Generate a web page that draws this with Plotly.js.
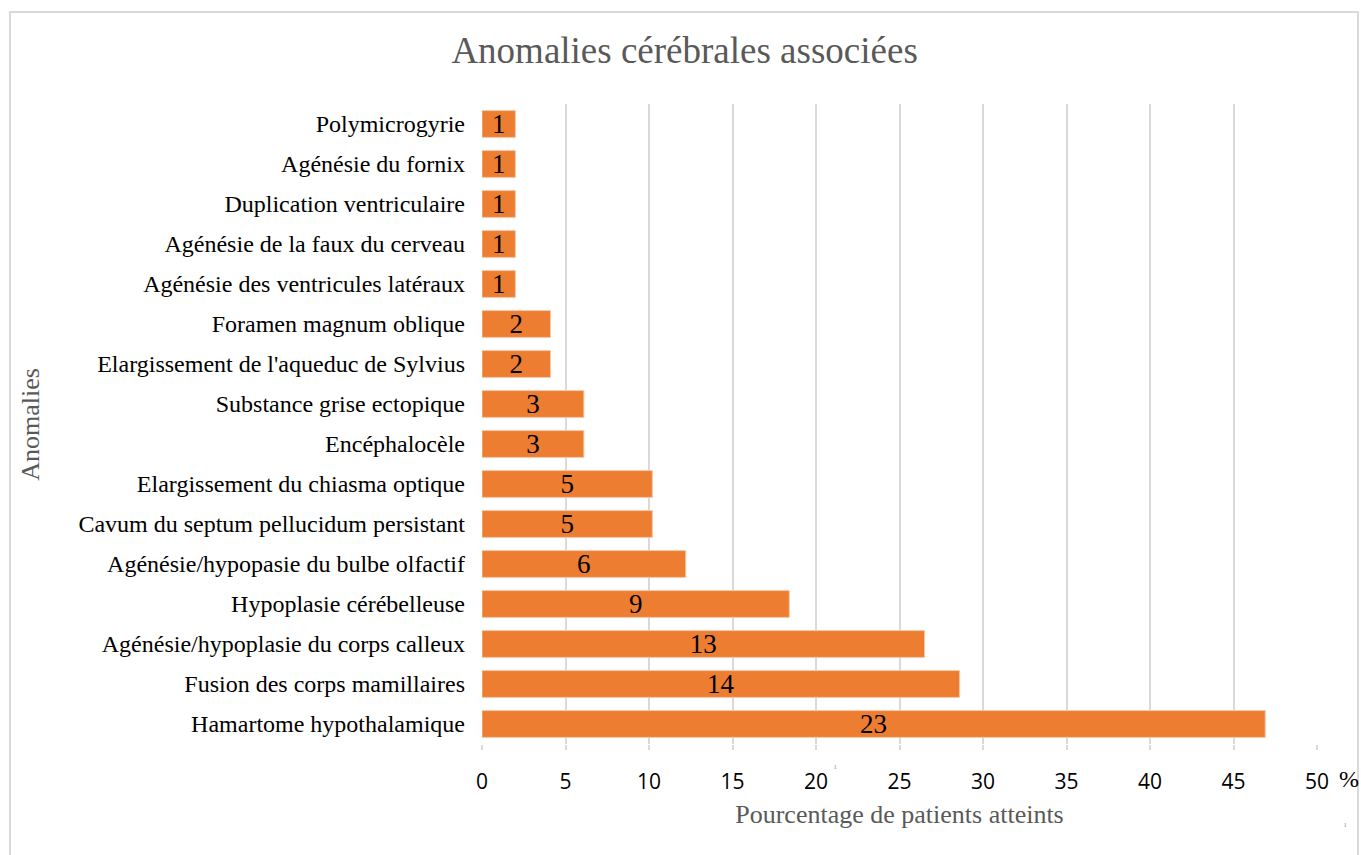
<!DOCTYPE html>
<html>
<head>
<meta charset="utf-8">
<script src="https://cdn.plot.ly/plotly-3.0.1.min.js"></script>
<style>
html,body{margin:0;padding:0;background:#fff;}
#chart{width:1361px;height:855px;}
</style>
</head>
<body>
<div id="chart"></div>
<script>
// Categories listed bottom to top
const categories = [
  "Hamartome hypothalamique",
  "Fusion des corps mamillaires",
  "Agénésie/hypoplasie du corps calleux",
  "Hypoplasie cérébelleuse",
  "Agénésie/hypopasie du bulbe olfactif",
  "Cavum du septum pellucidum persistant",
  "Elargissement du chiasma optique",
  "Encéphalocèle",
  "Substance grise ectopique",
  "Elargissement de l'aqueduc de Sylvius",
  "Foramen magnum oblique",
  "Agénésie des ventricules latéraux",
  "Agénésie de la faux du cerveau",
  "Duplication ventriculaire",
  "Agénésie du fornix",
  "Polymicrogyrie"
];
// Percentage of patients affected (bar length)
const percentages = [46.9, 28.6, 26.5, 18.4, 12.2, 10.2, 10.2, 6.1, 6.1, 4.1, 4.1, 2.0, 2.0, 2.0, 2.0, 2.0];
// Number of patients (bar labels)
const counts = [23, 14, 13, 9, 6, 5, 5, 3, 3, 2, 2, 1, 1, 1, 1, 1];
// X tick values / labels
const xTickVals = [0, 5, 10, 15, 20, 25, 30, 35, 40, 45, 50];
const xTickText = ["0", "5", "10", "15", "20", "25", "30", "35", "40", "45", "50"];

const serif = "Liberation Serif, Times New Roman, serif";

const trace = {
  type: "bar",
  orientation: "h",
  y: categories,
  x: percentages,
  text: counts.map(String),
  textposition: "inside",
  insidetextanchor: "middle",
  constraintext: "none",
  textangle: 0,
  textfont: {family: serif, size: 27, color: "#000000"},
  marker: {color: "#ed7d31", line: {color: "#f6c7a6", width: 1}},
  hoverinfo: "x+y",
  cliponaxis: false
};

const layout = {
  width: 1361,
  height: 855,
  margin: {l: 482, r: 44, t: 104, b: 111},
  paper_bgcolor: "#ffffff",
  plot_bgcolor: "#ffffff",
  showlegend: false,
  bargap: 0.33,
  title: {
    text: "Anomalies cérébrales associées",
    font: {family: serif, size: 37, color: "#595959"},
    x: 0.503, xref: "container", xanchor: "center",
    y: 0.942, yref: "container", yanchor: "middle"
  },
  xaxis: {
    range: [0, 50],
    tickmode: "array",
    tickvals: xTickVals,
    ticktext: xTickText,
    showgrid: true,
    gridcolor: "#d9d9d9",
    gridwidth: 2,
    zeroline: false,
    showline: false,
    ticks: "outside",
    ticklen: 5,
    tickwidth: 2,
    tickcolor: "#d9d9d9",
    tickfont: {family: "Open Sans, Noto Sans, sans-serif", size: 21, color: "#000000"},
    ticklabelstandoff: 14,
    title: {text: "Pourcentage de patients atteints", font: {family: serif, size: 26, color: "#595959"}, standoff: 10},
    fixedrange: true
  },
  yaxis: {
    type: "category",
    categoryorder: "array",
    categoryarray: categories,
    showgrid: false,
    zeroline: false,
    showline: false,
    ticks: "",
    tickfont: {family: serif, size: 24, color: "#000000"},
    ticklabelstandoff: 16,
    title: {text: ""},
    fixedrange: true
  },
  annotations: [
    {text: "Anomalies", textangle: -90, xref: "paper", yref: "paper",
     x: -0.5415, y: 0.5, xanchor: "center", yanchor: "middle", showarrow: false,
     font: {family: serif, size: 26, color: "#595959"}},
    {text: "%", xref: "paper", yref: "paper", x: 1.0245, y: -0.0545,
     xanchor: "left", yanchor: "middle", showarrow: false,
     font: {family: serif, size: 24, color: "#000000"}},
    {text: "ı", xref: "paper", yref: "paper", x: 0.4228, y: -0.034,
     xanchor: "center", yanchor: "middle", showarrow: false,
     font: {family: serif, size: 9, color: "#7fb3b3"}},
    {text: "ı", xref: "paper", yref: "paper", x: 1.0347, y: -0.125,
     xanchor: "center", yanchor: "middle", showarrow: false,
     font: {family: serif, size: 9, color: "#7fb3b3"}}
  ],
  shapes: [
    {type: "rect", xref: "paper", yref: "paper",
     x0: -0.5653, x1: 1.0491, y0: -0.2, y1: 1.14375,
     line: {color: "#d9d9d9", width: 2}, fillcolor: "rgba(0,0,0,0)", layer: "below"}
  ]
};

Plotly.newPlot("chart", [trace], layout, {displayModeBar: false, staticPlot: true});
</script>
</body>
</html>
